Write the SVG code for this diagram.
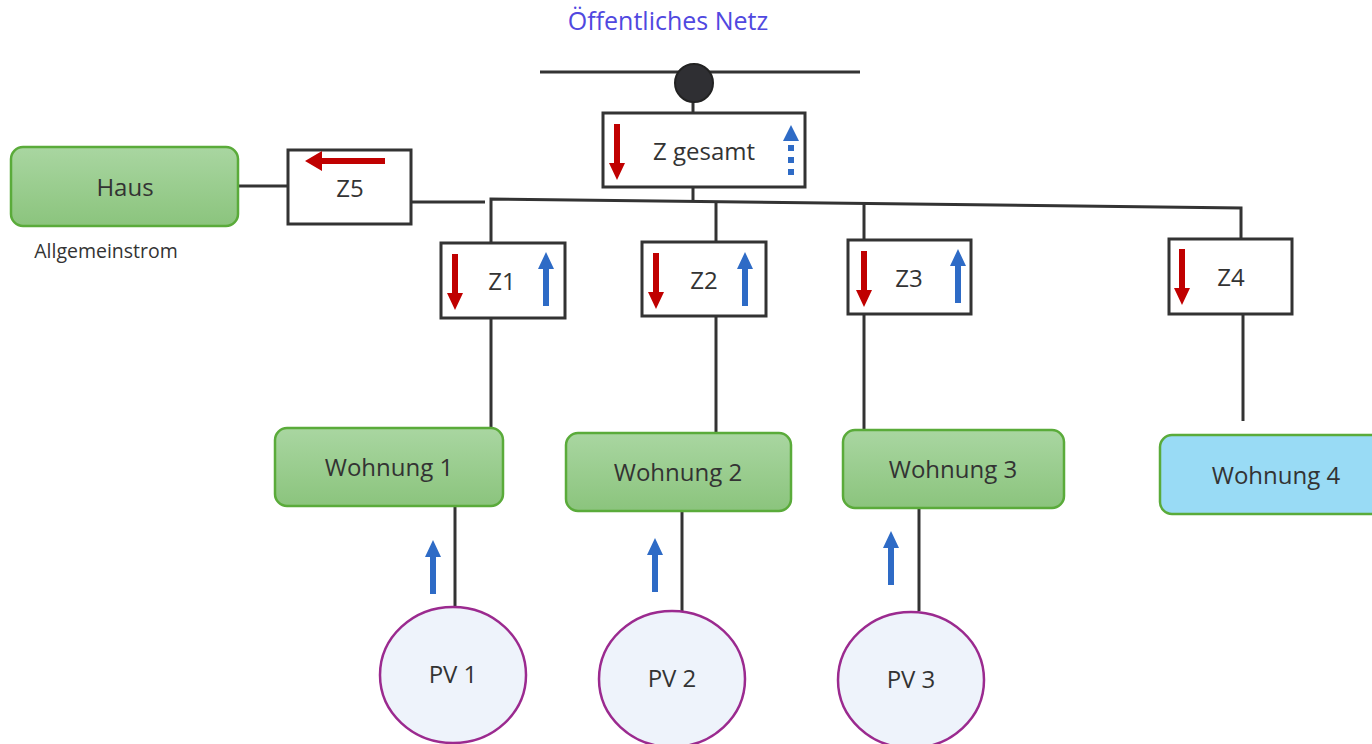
<svg xmlns="http://www.w3.org/2000/svg" width="1372" height="744" viewBox="0 0 1372 744">
<style>
text{font-family:"Open Sans","Noto Sans","Liberation Sans",sans-serif;fill:#333;text-anchor:middle}
.lbl{font-size:24px}
.meter{fill:#fff;stroke:#333;stroke-width:3}
.green{fill:url(#gg);stroke:#5aab3a;stroke-width:2.5}
.blue{fill:#99dbf5;stroke:#5aab3a;stroke-width:2.5}
.pv{fill:#eef3fb;stroke:#9b2a8f;stroke-width:2.5}
.wire{stroke:#333;stroke-width:3;fill:none}
.red{fill:#c00000}
.bl{fill:#2e6bc6}
</style>
<defs>
<linearGradient id="gg" x1="0" y1="0" x2="0" y2="1">
<stop offset="0" stop-color="#a9d6a1"/>
<stop offset="1" stop-color="#8bc47d"/>
</linearGradient>
<path id="down" d="M-3,0 H3 V39 H8 L0,56 L-8,39 H-3 Z"/>
<path id="up" d="M-3,54 H3 V17 H8 L0,0 L-8,17 H-3 Z"/>
</defs>
<text x="668" y="30" style="font-size:25px;fill:#5048e0">Öffentliches Netz</text>
<g id="connectors">
<line class="wire" x1="540" y1="72" x2="860" y2="72"/>
<line class="wire" x1="693" y1="95" x2="693" y2="113"/>
<line class="wire" x1="693" y1="187" x2="693" y2="200"/>
<polyline class="wire" points="491,243 491,199 1241,208 1241,239"/>
<line class="wire" x1="716" y1="202" x2="716" y2="242"/>
<line class="wire" x1="864" y1="204" x2="864" y2="240"/>
<line class="wire" x1="411" y1="202" x2="485" y2="202"/>
<line class="wire" x1="238" y1="186" x2="288" y2="186"/>
<line class="wire" x1="491" y1="318" x2="491" y2="428"/>
<line class="wire" x1="716" y1="316" x2="716" y2="433"/>
<line class="wire" x1="864" y1="314" x2="864" y2="430"/>
<line class="wire" x1="1243" y1="314" x2="1243" y2="421"/>
<line class="wire" x1="455" y1="506" x2="455" y2="607"/>
<line class="wire" x1="682" y1="511" x2="682" y2="611"/>
<line class="wire" x1="919" y1="508" x2="919" y2="611"/>
</g>
<g id="grid-node"><circle cx="694" cy="83" r="19" fill="#2f2f33" stroke="#222" stroke-width="2"/></g>
<g id="zgesamt">
<rect class="meter" x="603" y="113" width="202" height="74"/>
<text class="lbl" x="704" y="160">Z gesamt</text>
<use href="#down" class="red" x="617" y="124"/>
<path class="bl" d="M783,141 L791,125 L799,141 Z"/>
<rect class="bl" x="788" y="145" width="6" height="6"/>
<rect class="bl" x="788" y="157" width="6" height="6"/>
<rect class="bl" x="788" y="169" width="6" height="6"/>
</g>
<g id="haus">
<rect class="green" x="11" y="147" width="227" height="79" rx="12"/>
<text class="lbl" x="125" y="196">Haus</text>
<text x="106" y="258" style="font-size:19.5px">Allgemeinstrom</text>
</g>
<g id="z5">
<rect class="meter" x="288" y="150" width="123" height="74"/>
<path class="red" d="M385,158 V164 H322 V171 L305,161 L322,151 V158 Z"/>
<text class="lbl" x="350" y="197">Z5</text>
</g>
<g id="z1">
<rect class="meter" x="441" y="243" width="124" height="75"/>
<text class="lbl" x="502" y="290">Z1</text>
<use href="#down" class="red" x="455" y="254"/>
<use href="#up" class="bl" x="546" y="252"/>
</g>
<g id="z2">
<rect class="meter" x="642" y="242" width="124" height="74"/>
<text class="lbl" x="704" y="289">Z2</text>
<use href="#down" class="red" x="656" y="253"/>
<use href="#up" class="bl" x="745" y="252"/>
</g>
<g id="z3">
<rect class="meter" x="848" y="240" width="123" height="74"/>
<text class="lbl" x="909" y="287">Z3</text>
<use href="#down" class="red" x="864" y="251"/>
<use href="#up" class="bl" x="958" y="249"/>
</g>
<g id="z4">
<rect class="meter" x="1169" y="239" width="123" height="75"/>
<text class="lbl" x="1231" y="286">Z4</text>
<use href="#down" class="red" x="1182" y="249"/>
</g>
<g id="wohnung1">
<rect class="green" x="275" y="428" width="228" height="78" rx="12"/>
<text class="lbl" x="389" y="476">Wohnung 1</text>
</g>
<g id="wohnung2">
<rect class="green" x="566" y="433" width="225" height="78" rx="12"/>
<text class="lbl" x="678" y="481">Wohnung 2</text>
</g>
<g id="wohnung3">
<rect class="green" x="843" y="430" width="221" height="78" rx="12"/>
<text class="lbl" x="953" y="478">Wohnung 3</text>
</g>
<g id="wohnung4">
<rect class="blue" x="1160" y="435" width="225" height="79" rx="12"/>
<text class="lbl" x="1276" y="484">Wohnung 4</text>
</g>
<g id="pv1">
<use href="#up" class="bl" x="433" y="540"/>
<ellipse class="pv" cx="453" cy="675" rx="73" ry="68"/>
<text class="lbl" x="453" y="683">PV 1</text>
</g>
<g id="pv2">
<use href="#up" class="bl" x="655" y="538"/>
<ellipse class="pv" cx="672" cy="679" rx="73" ry="68"/>
<text class="lbl" x="672" y="687">PV 2</text>
</g>
<g id="pv3">
<use href="#up" class="bl" x="891" y="531"/>
<ellipse class="pv" cx="911" cy="680" rx="73" ry="68"/>
<text class="lbl" x="911" y="688">PV 3</text>
</g>
</svg>
